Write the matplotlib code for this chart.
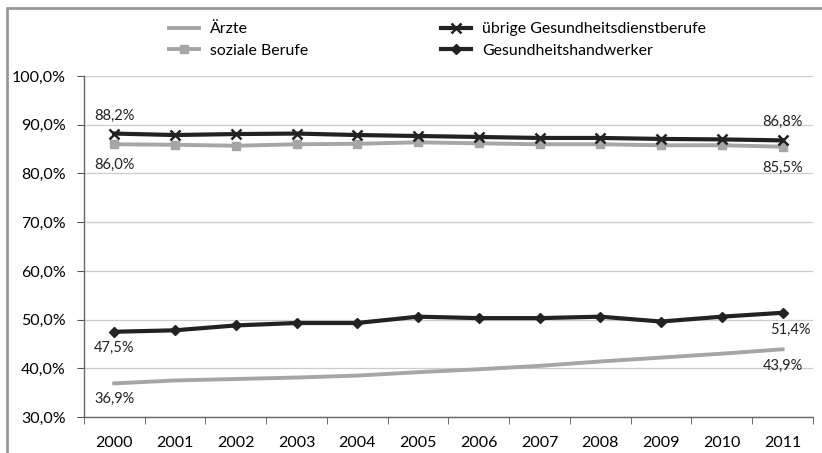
import matplotlib
matplotlib.use('Agg')
import matplotlib.pyplot as plt
from matplotlib.patches import Rectangle
from matplotlib.ticker import FuncFormatter

plt.rcParams['font.family'] = ['Lato', 'DejaVu Sans']

jahre = ['2000', '2001', '2002', '2003', '2004', '2005',
         '2006', '2007', '2008', '2009', '2010', '2011']
aerzte = [36.9, 37.5, 37.8, 38.1, 38.5, 39.2, 39.8, 40.5, 41.4, 42.2, 43.0, 43.9]
soziale = [86.0, 85.9, 85.7, 86.0, 86.1, 86.4, 86.2, 86.0, 86.0, 85.8, 85.8, 85.5]
uebrige = [88.2, 87.9, 88.1, 88.2, 87.9, 87.7, 87.5, 87.3, 87.3, 87.1, 87.0, 86.8]
handwerker = [47.5, 47.8, 48.8, 49.3, 49.3, 50.6, 50.3, 50.3, 50.6, 49.6, 50.6, 51.4]

# beschriftete Werte: (reihe, index, offset in pixel)
labels = [
    (uebrige, 0, 18), (soziale, 0, -21),
    (uebrige, 11, 18), (soziale, 11, -21),
    (handwerker, 0, -16), (aerzte, 0, -16),
    (handwerker, 11, -17), (aerzte, 11, -17),
]

hell = '#a6a6a6'
dunkel = '#222222'

fig = plt.figure(figsize=(8.22, 4.53), dpi=100)
ax = fig.add_axes([0.102, 0.0795, 0.887, 0.7525])

x = list(range(len(jahre)))
ax.plot(x, aerzte, color=hell, lw=2.8, label='Ärzte')
ax.plot(x, soziale, color=hell, lw=2.8, marker='s', ms=6, label='soziale Berufe')
ax.plot(x, uebrige, color=dunkel, lw=3, marker='x', ms=7, mew=1.8,
        label='übrige Gesundheitsdienstberufe')
ax.plot(x, handwerker, color=dunkel, lw=3, marker='D', ms=5,
        label='Gesundheitshandwerker')

for reihe, i, dy in labels:
    dx = 8 if (i == 11 and reihe is handwerker) else 0
    ax.annotate(f'{reihe[i]:.1f}%'.replace('.', ','), (i, reihe[i]),
                xytext=(dx, dy), textcoords='offset pixels',
                ha='center', va='center', fontsize=10.5, color='#222222')

ax.set_xlim(-0.5, 11.5)
ax.set_ylim(30, 100)
ax.set_yticks(range(30, 101, 10))
ax.yaxis.set_major_formatter(FuncFormatter(lambda v, p: f'{v:.1f}%'.replace('.', ',')))
ax.set_xticks(x)
ax.set_xticklabels(jahre)
ax.set_xticks([i + 0.5 for i in range(-1, 12)], minor=True)
ax.tick_params(axis='x', which='major', length=0, pad=14, labelsize=11.5)
ax.tick_params(axis='x', which='minor', length=5, color='#555555')
ax.tick_params(axis='y', length=5, color='#555555', labelsize=11.5, pad=8)
ax.grid(axis='y', color='#cccccc', lw=0.9)
ax.set_axisbelow(True)
for s in ['top', 'right']:
    ax.spines[s].set_visible(False)
for s in ['left', 'bottom']:
    ax.spines[s].set_color('#666666')
    ax.spines[s].set_linewidth(1.0)

fig.legend(loc='center', bbox_to_anchor=(0.532, 0.912), ncol=2, frameon=False,
           fontsize=11.4, handlelength=1.9, columnspacing=8.4,
           labelspacing=0.45, handletextpad=0.7)

fig.patches.append(Rectangle((7 / 822, -0.1), 1.2, 1 - 8 / 453 + 0.1,
                             transform=fig.transFigure, fill=False,
                             edgecolor='#999999', lw=2))

plt.savefig('out.png', dpi=100)
plt.close()
